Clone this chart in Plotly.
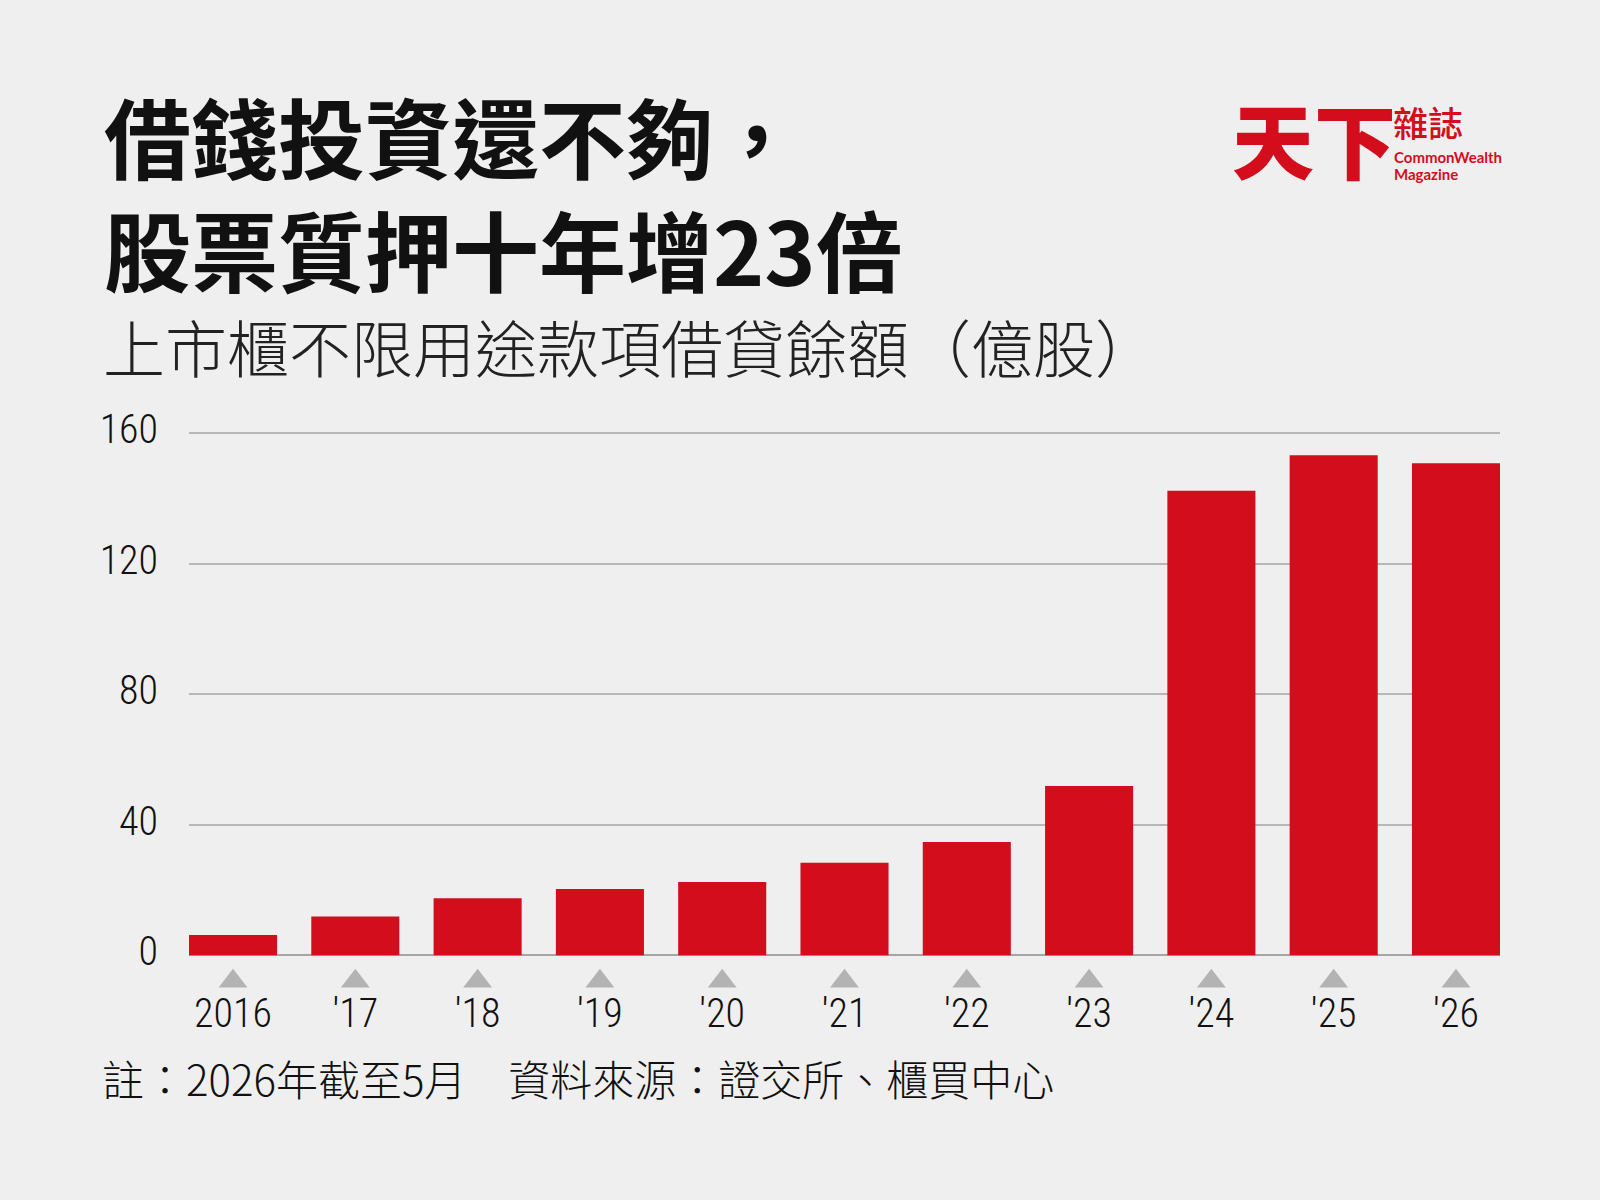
import plotly.graph_objects as go

# ---- data ----
years = ["2016", "'17", "'18", "'19", "'20", "'21", "'22", "'23", "'24", "'25", "'26"]
values = [6.2, 11.9, 17.5, 20.3, 22.5, 28.4, 34.7, 51.9, 142.3, 153.2, 150.7]
y_ticks = [0, 40, 80, 120, 160]

title_lines = ["借錢投資還不夠，", "股票質押十年增23倍"]
subtitle = "上市櫃不限用途款項借貸餘額（億股）"
footnote = "註：2026年截至5月　資料來源：證交所、櫃買中心"

# ---- layout geometry ----
W, H = 1600, 1200
ML, MR, MT, MB = 189, 100, 431, 212
PW, PH = W - ML - MR, H - MT - MB
Y_RANGE = [-10, 160.6]
TRI_Y = -7.9  # marker row just below the baseline

def px(x):
    return (x - ML) / PW

def py(y):
    return (H - MB - y) / PH

RED = "#d40d1d"
BG = "#efefef"
NUM_FONT = "Roboto Condensed, DejaVu Sans Condensed, Liberation Sans Narrow, Roboto, sans-serif"
CJK = "Noto Sans CJK TC, Noto Sans CJK SC, sans-serif"

fig = go.Figure()
fig.add_trace(go.Bar(
    x=years, y=values,
    marker=dict(color=RED, line=dict(width=0)),
    width=0.72,
    hoverinfo="x+y",
))
# grey triangles under each category
fig.add_trace(go.Scatter(
    x=years, y=[TRI_Y] * len(years),
    mode="markers",
    marker=dict(symbol="triangle-up", size=25, color="#b3b3b3"),
    cliponaxis=False,
    hoverinfo="skip",
))

def ann(text, x, y, size, color, weight, family=CJK):
    return dict(text=text, x=px(x), y=py(y), xref="paper", yref="paper",
                xanchor="left", yanchor="middle", align="left", showarrow=False,
                font=dict(family=family, size=size, color=color, weight=weight))

annotations = [
    ann("<br>".join(title_lines), 102, 192, 87, "#111111", 700),
    ann(subtitle, 101, 346, 62, "#222222", 300),
    ann(footnote, 100, 1077, 42, "#111111", 300),
    # logo
    ann("天下", 1230, 138, 82, RED, 900),
    ann("雜誌", 1391, 122, 35, RED, 500),
    ann("CommonWealth", 1392, 157, 15, RED, 700, "Lato, sans-serif"),
    ann("Magazine", 1392, 174, 15, RED, 700, "Lato, sans-serif"),
]

fig.update_layout(
    width=W, height=H,
    margin=dict(l=ML, r=MR, t=MT, b=MB, pad=0),
    paper_bgcolor=BG, plot_bgcolor=BG,
    showlegend=False,
    annotations=annotations,
    xaxis=dict(
        type="category",
        range=[-0.36, 10.36],
        showgrid=False,
        showline=False,
        ticks="",
        tickfont=dict(family=NUM_FONT, size=40, color="#111111", weight=300),
        ticklabelstandoff=-2,
        fixedrange=True,
    ),
    yaxis=dict(
        range=Y_RANGE,
        tickvals=y_ticks,
        ticktext=[str(v) for v in y_ticks],
        showgrid=True, gridcolor="#b8b8b8", gridwidth=1.5,
        zeroline=True, zerolinecolor="#a5a5a5", zerolinewidth=1.5,
        showline=False,
        ticks="",
        tickfont=dict(family=NUM_FONT, size=40, color="#111111", weight=300),
        ticklabelstandoff=30,
        ticklabelshift=-4,
        fixedrange=True,
    ),
)

fig.write_html("out.html")
